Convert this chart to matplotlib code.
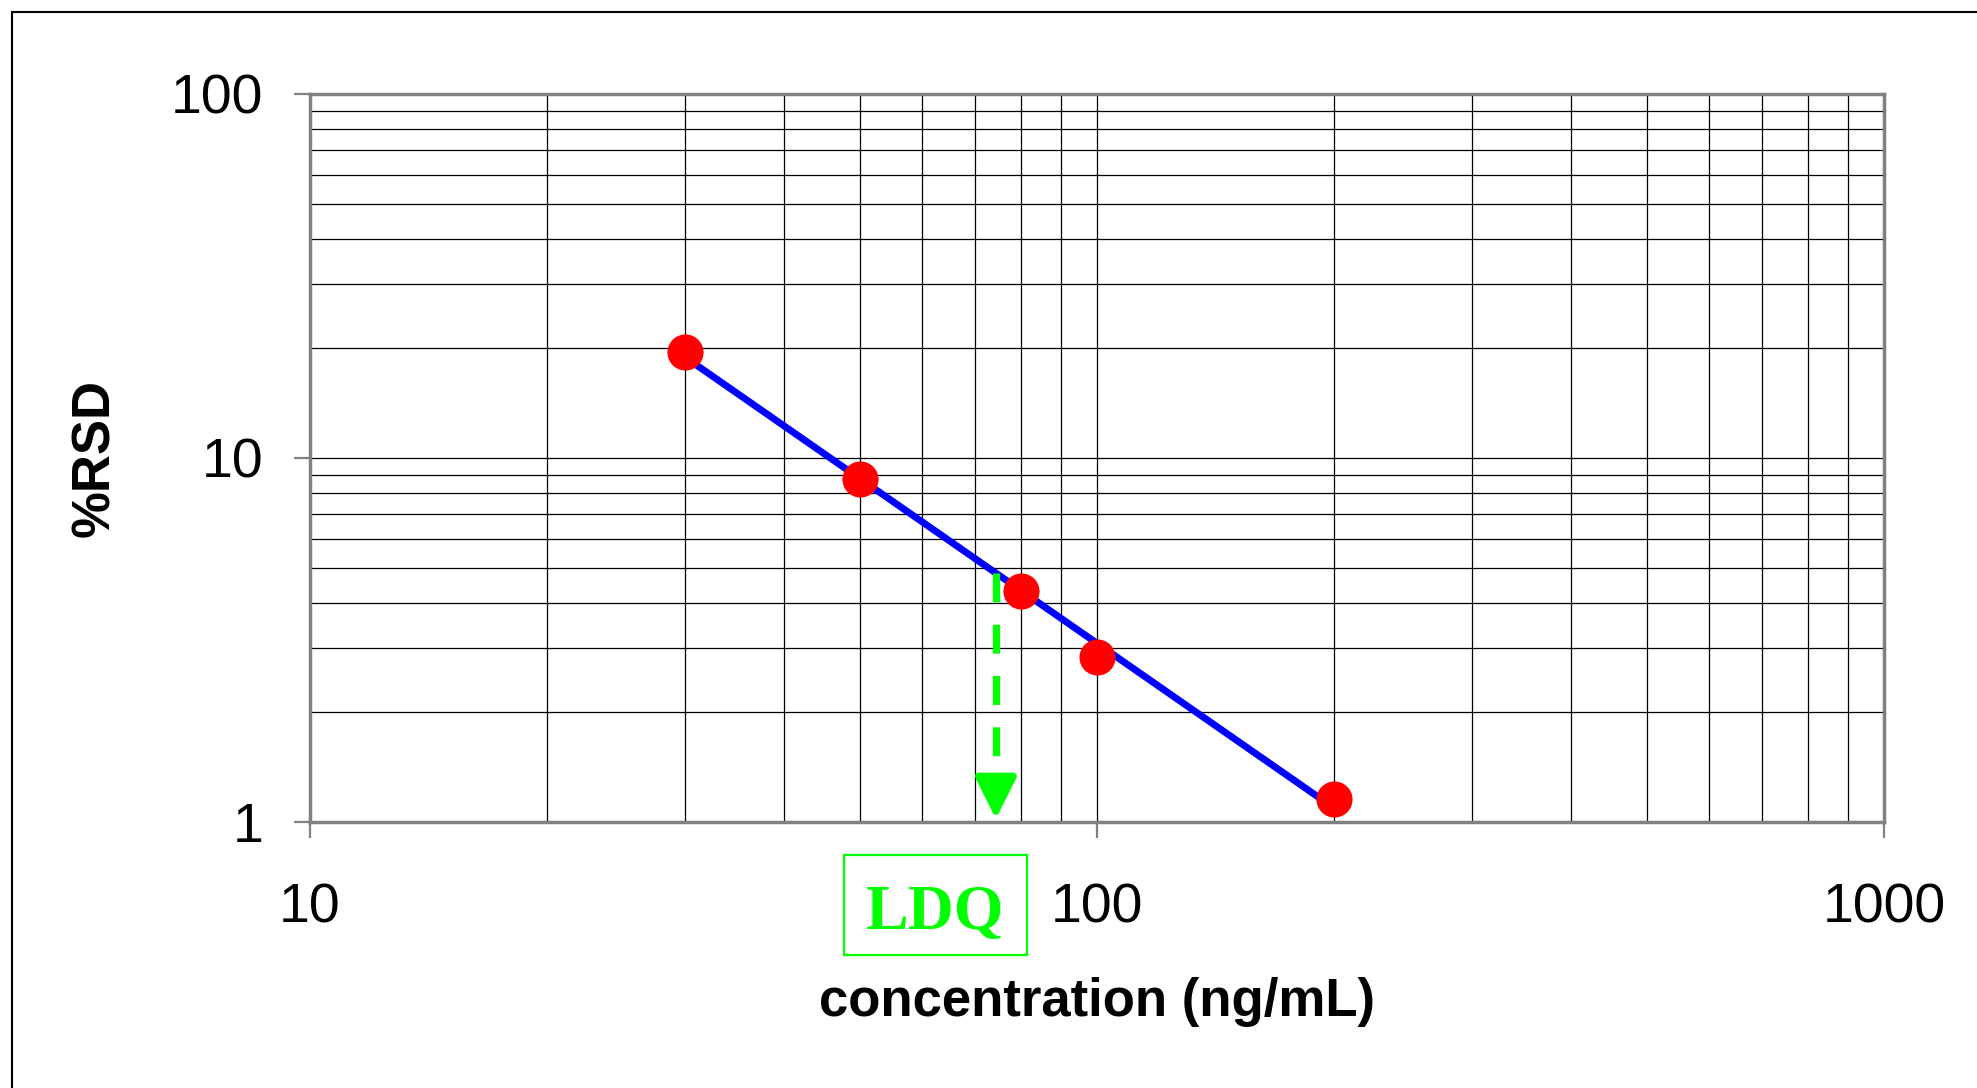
import numpy as np
import matplotlib
matplotlib.use('Agg')
import matplotlib.pyplot as plt
from matplotlib.patches import Rectangle
from matplotlib.ticker import FixedLocator, FixedFormatter, NullFormatter

# ---- data ----
conc = [30, 50, 80, 100, 200]
rsd = [19.6, 8.75, 4.3, 2.84, 1.16]
ldq_conc = 74.4
x_ticks = [10, 100, 1000]
x_tick_labels = ['10', '100', '1000']
y_ticks = [1, 10, 100]
y_tick_labels = ['1', '10', '100']
x_minor = [20, 30, 40, 50, 60, 70, 80, 90, 200, 300, 400, 500, 600, 700, 800, 900]
y_minor = [2, 3, 4, 5, 6, 7, 8, 9, 20, 30, 40, 50, 60, 70, 80, 90]
x_label = 'concentration (ng/mL)'
y_label = '%RSD'
ldq_text = 'LDQ'

W, H = 1977, 1088
plt.rcParams['font.family'] = ['Liberation Sans', 'DejaVu Sans']
fig = plt.figure(figsize=(W / 100, H / 100), dpi=100)
fig.patch.set_facecolor('white')

ax_l, ax_r, ax_t, ax_b = 310, 1884, 94, 822
ax = fig.add_axes([ax_l / W, 1 - ax_b / H, (ax_r - ax_l) / W, (ax_b - ax_t) / H])
ax.set_xscale('log')
ax.set_yscale('log')
ax.set_xlim(10, 1000)
ax.set_ylim(1, 100)

ax.xaxis.set_major_locator(FixedLocator(x_ticks))
ax.xaxis.set_major_formatter(FixedFormatter(x_tick_labels))
ax.yaxis.set_major_locator(FixedLocator(y_ticks))
ax.yaxis.set_major_formatter(FixedFormatter(y_tick_labels))
ax.xaxis.set_minor_locator(FixedLocator(x_minor))
ax.yaxis.set_minor_locator(FixedLocator(y_minor))
ax.xaxis.set_minor_formatter(NullFormatter())
ax.yaxis.set_minor_formatter(NullFormatter())

ax.set_axisbelow(True)
ax.grid(which='both', color='black', lw=0.9)
for s in ax.spines.values():
    s.set_color('#808080')
    s.set_linewidth(2.5)

ax.tick_params(which='major', direction='out', length=11.5, width=1.6, color='#808080',
               labelsize=40, labelcolor='black')
ax.tick_params(axis='x', which='major', pad=32)
ax.tick_params(axis='y', which='major', pad=22)
ax.tick_params(which='minor', length=0)

# power-law trend line (least squares in log-log)
coef = np.polyfit(np.log10(conc), np.log10(rsd), 1)
fit_x = np.array([conc[0], conc[-1]], dtype=float)
fit_y = 10 ** np.polyval(coef, np.log10(fit_x))
ax.plot(fit_x, fit_y, color='#0000FF', lw=5, zorder=3, solid_capstyle='butt')
ax.plot(conc, rsd, 'o', color='#FF0000', markersize=26, markeredgewidth=0, zorder=5)

# LDQ dashed arrow
y_start = 10 ** np.polyval(coef, np.log10(ldq_conc))
ax.plot([ldq_conc, ldq_conc], [y_start, 1.28], color='#00FF00', lw=5.2,
        dashes=(4, 3.1), solid_capstyle='butt', dash_capstyle='butt', zorder=4)
ax.annotate('', xy=(ldq_conc, 1.02), xytext=(ldq_conc, 1.3),
            arrowprops=dict(arrowstyle='-|>,head_length=0.42,head_width=0.21',
                            mutation_scale=60, color='#00FF00', lw=5,
                            shrinkA=0, shrinkB=0),
            zorder=4)

# axis labels
ax.set_xlabel(x_label, fontsize=38, fontweight='bold', va='center')
ax.xaxis.set_label_coords(0.5, (ax_b - 1002) / (ax_b - ax_t))
ax.set_ylabel(y_label, fontsize=38, fontweight='bold', va='center')
ax.yaxis.set_label_coords((95 - ax_l) / (ax_r - ax_l), 0.5)

# LDQ box
fig.patches.append(Rectangle((844 / W, 1 - 955 / H), (1027 - 844) / W, (955 - 855) / H,
                             transform=fig.transFigure, fill=False,
                             edgecolor='#00FF00', lw=1.6))
fig.text(935.5 / W, 1 - 929 / H, ldq_text, fontsize=46, fontweight='bold',
         family=['Liberation Serif', 'DejaVu Serif'], color='#00FF00',
         ha='center', va='baseline')

# outer frame
fig.patches.append(Rectangle((12 / W, -1), 3, 2 - 12 / H, transform=fig.transFigure,
                             fill=False, edgecolor='black', lw=1.5))

fig.savefig('out.png', dpi=100)
